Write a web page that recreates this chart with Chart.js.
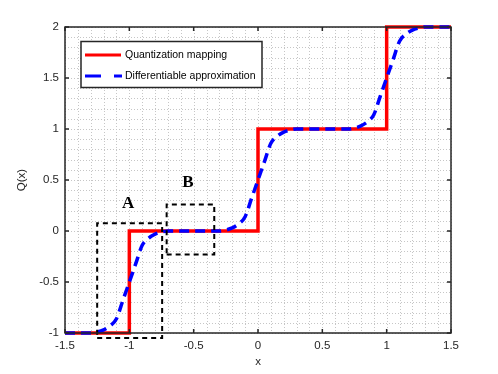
<!DOCTYPE html>
<html>
<head>
<meta charset="utf-8">
<script src="https://cdn.jsdelivr.net/npm/chart.js@4.4.1/dist/chart.umd.min.js"></script>
<style>
  html, body { margin: 0; padding: 0; background: #fff; }
  #wrap { width: 498px; height: 374px; position: relative; }
</style>
</head>
<body>
<div id="wrap"><canvas id="qChart"></canvas></div>
<script>
// =====================
// DATA
// =====================
const stepX = [-1.5, -1, -1, 0, 0, 1, 1, 1.5];
const stepY = [-1, -1, 0, 0, 1, 1, 2, 2];

const approxX = [-1.5, -1.45, -1.4, -1.35, -1.3, -1.25, -1.2, -1.15, -1.1, -1.05,
  -1, -0.95, -0.9, -0.85, -0.8, -0.75, -0.7, -0.65, -0.6, -0.55,
  -0.5, -0.45, -0.4, -0.35, -0.3, -0.25, -0.2, -0.15, -0.1, -0.05,
  0, 0.05, 0.1, 0.15, 0.2, 0.25, 0.3, 0.35, 0.4, 0.45,
  0.5, 0.55, 0.6, 0.65, 0.7, 0.75, 0.8, 0.85, 0.9, 0.95,
  1, 1.05, 1.1, 1.15, 1.2, 1.25, 1.3, 1.35, 1.4, 1.45, 1.5];
const approxY = [-1, -1, -1, -1, -1, -0.99, -0.97, -0.93, -0.86, -0.68,
  -0.5, -0.32, -0.14, -0.07, -0.03, -0.01, 0, 0, 0, 0,
  0, 0, 0, 0, 0, 0.01, 0.03, 0.07, 0.14, 0.32,
  0.5, 0.68, 0.86, 0.93, 0.97, 0.99, 1, 1, 1, 1,
  1, 1, 1, 1, 1, 1.01, 1.03, 1.07, 1.14, 1.32,
  1.5, 1.68, 1.86, 1.93, 1.97, 1.99, 2, 2, 2, 2, 2];

// dashed zoom boxes (corners in data units)
const boxAX = [-1.25, -0.745, -0.745, -1.25, -1.25];
const boxAY = [-1.05, -1.05, 0.075, 0.075, -1.05];
const boxBX = [-0.71, -0.34, -0.34, -0.71, -0.71];
const boxBY = [-0.23, -0.23, 0.26, 0.26, -0.23];

// box labels
const boxLabels = ["A", "B"];
const boxLabelX = [-1.01, -0.545];
const boxLabelY = [0.265, 0.47];

const xMajor = [-1.5, -1, -0.5, 0, 0.5, 1, 1.5];
const yMajor = [-1, -0.5, 0, 0.5, 1, 1.5, 2];

const seriesNames = ["Quantization mapping", "Differentiable approximation"];

const toPts = (xs, ys) => xs.map((v, i) => ({ x: v, y: ys[i] }));

function majorLabel(v, list) {
  const hit = list.find(m => Math.abs(m - v) < 1e-6);
  return hit === undefined ? "" : String(hit);
}

const FONT = "Liberation Sans, Arial, sans-serif";

// =====================
// PLUGINS
// =====================
const gridPlugin = {
  id: "dottedGrid",
  beforeDatasetsDraw(chart) {
    const { ctx, chartArea: a, scales: { x, y } } = chart;
    ctx.save();
    ctx.strokeStyle = "#c6c6c6";
    ctx.lineWidth = 1;
    ctx.setLineDash([1, 2]);
    x.ticks.forEach(t => {
      const px = Math.round(x.getPixelForValue(t.value)) + 0.5;
      ctx.beginPath();
      ctx.moveTo(px, a.top);
      ctx.lineTo(px, a.bottom);
      ctx.stroke();
    });
    y.ticks.forEach(t => {
      const py = Math.round(y.getPixelForValue(t.value)) + 0.5;
      ctx.beginPath();
      ctx.moveTo(a.left, py);
      ctx.lineTo(a.right, py);
      ctx.stroke();
    });
    ctx.restore();
  }
};

const framePlugin = {
  id: "frame",
  afterDatasetsDraw(chart) {
    const { ctx, chartArea: a, scales: { x, y } } = chart;
    ctx.save();

    // axes box + inward ticks
    ctx.strokeStyle = "#262626";
    ctx.lineWidth = 1.5;
    ctx.setLineDash([]);
    ctx.strokeRect(a.left, a.top, a.right - a.left, a.bottom - a.top);
    ctx.beginPath();
    xMajor.forEach(v => {
      const px = x.getPixelForValue(v);
      ctx.moveTo(px, a.bottom); ctx.lineTo(px, a.bottom - 4);
      ctx.moveTo(px, a.top); ctx.lineTo(px, a.top + 4);
    });
    yMajor.forEach(v => {
      const py = y.getPixelForValue(v);
      ctx.moveTo(a.left, py); ctx.lineTo(a.left + 4, py);
      ctx.moveTo(a.right, py); ctx.lineTo(a.right - 4, py);
    });
    ctx.stroke();

    // A / B labels
    ctx.fillStyle = "#000";
    ctx.font = "bold 17px 'Liberation Serif', 'Times New Roman', serif";
    ctx.textAlign = "center";
    ctx.textBaseline = "middle";
    boxLabels.forEach((s, i) => {
      ctx.fillText(s, x.getPixelForValue(boxLabelX[i]), y.getPixelForValue(boxLabelY[i]));
    });

    // legend
    const lx = 81, ly = 41.5, lw = 181, lh = 46;
    ctx.fillStyle = "#fff";
    ctx.fillRect(lx, ly, lw, lh);
    ctx.strokeStyle = "#262626";
    ctx.lineWidth = 1.5;
    ctx.strokeRect(lx, ly, lw, lh);

    ctx.lineWidth = 3;
    ctx.strokeStyle = "#ff0000";
    ctx.beginPath(); ctx.moveTo(85, 55); ctx.lineTo(121, 55); ctx.stroke();
    ctx.strokeStyle = "#0000ff";
    ctx.setLineDash([16, 13]);
    ctx.beginPath(); ctx.moveTo(85, 76); ctx.lineTo(122, 76); ctx.stroke();
    ctx.setLineDash([]);

    ctx.fillStyle = "#000";
    ctx.font = "10.5px " + FONT;
    ctx.textAlign = "left";
    ctx.textBaseline = "middle";
    ctx.fillText(seriesNames[0], 125, 55.5);
    ctx.fillText(seriesNames[1], 125, 76.5);

    ctx.restore();
  }
};

// =====================
// CHART
// =====================
const tickFont = { family: FONT, size: 11.5 };

new Chart(document.getElementById("qChart"), {
  type: "line",
  data: {
    datasets: [
      {
        label: "box A",
        data: toPts(boxAX, boxAY),
        borderColor: "#000",
        borderWidth: 2,
        borderDash: [5, 4],
        pointRadius: 0,
        tension: 0,
        clip: false
      },
      {
        label: "box B",
        data: toPts(boxBX, boxBY),
        borderColor: "#000",
        borderWidth: 2,
        borderDash: [5, 4],
        pointRadius: 0,
        tension: 0,
        clip: false
      },
      {
        label: seriesNames[1],
        data: toPts(approxX, approxY),
        borderColor: "#0000ff",
        borderWidth: 3.5,
        borderDash: [10, 6],
        borderCapStyle: "butt",
        pointRadius: 0,
        cubicInterpolationMode: "monotone",
        clip: false
      },
      {
        label: seriesNames[0],
        data: toPts(stepX, stepY),
        borderColor: "#ff0000",
        borderWidth: 3.5,
        borderJoinStyle: "miter",
        pointRadius: 0,
        tension: 0,
        clip: false
      }
    ]
  },
  options: {
    responsive: true,
    maintainAspectRatio: false,
    animation: false,
    devicePixelRatio: 1,
    layout: { padding: { top: 27, right: 47, left: 0, bottom: 0 } },
    plugins: {
      legend: { display: false },
      tooltip: { enabled: false }
    },
    scales: {
      x: {
        type: "linear",
        min: -1.5,
        max: 1.5,
        afterFit(s) { s.height = 41; },
        grid: { display: false, drawTicks: false },
        border: { display: false },
        ticks: {
          stepSize: 0.1,
          autoSkip: false,
          maxRotation: 0,
          padding: 6,
          color: "#262626",
          font: tickFont,
          callback: v => majorLabel(v, xMajor)
        },
        title: {
          display: true,
          text: "x",
          color: "#262626",
          font: tickFont,
          padding: { top: 0, bottom: 5 }
        }
      },
      y: {
        type: "linear",
        min: -1,
        max: 2,
        afterFit(s) { s.width = 65; },
        grid: { display: false, drawTicks: false },
        border: { display: false },
        ticks: {
          stepSize: 0.1,
          autoSkip: false,
          padding: 6,
          color: "#262626",
          font: tickFont,
          callback: v => majorLabel(v, yMajor)
        },
        title: {
          display: true,
          text: "Q(x)",
          color: "#262626",
          font: tickFont,
          padding: { top: 15, bottom: 0 }
        }
      }
    }
  },
  plugins: [gridPlugin, framePlugin]
});
</script>
</body>
</html>
